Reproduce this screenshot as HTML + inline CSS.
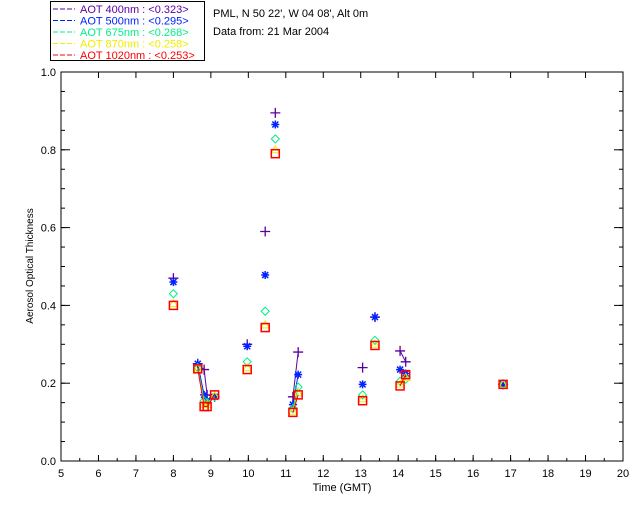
<!DOCTYPE html><html><head><style>body{margin:0;background:#fff}svg{display:block;font-family:"Liberation Sans","DejaVu Sans",sans-serif}</style></head><body>
<svg id="c" width="640" height="512"></svg>
<script>
const times=[8.0,8.65,8.82,8.9,9.1,9.97,10.45,10.72,11.19,11.33,13.05,13.38,14.05,14.2,16.8];
const aot400=[0.47,0.25,0.235,0.17,0.165,0.30,0.59,0.895,0.165,0.28,0.24,0.37,0.283,0.255,0.197];
const aot500=[0.46,0.25,0.17,0.155,0.165,0.295,0.478,0.865,0.145,0.222,0.197,0.37,0.235,0.225,0.197];
const aot675=[0.43,0.24,0.155,0.15,0.165,0.255,0.385,0.828,0.135,0.19,0.17,0.31,0.205,0.21,0.197];
const aot870=[0.405,0.238,0.145,0.145,0.168,0.24,0.35,0.80,0.128,0.175,0.16,0.30,0.198,0.215,0.197];
const aot1020=[0.40,0.237,0.14,0.14,0.17,0.235,0.343,0.79,0.125,0.17,0.155,0.297,0.193,0.222,0.197];
const xTicks=[5,6,7,8,9,10,11,12,13,14,15,16,17,18,19,20];
const yTicks=[0,0.2,0.4,0.6,0.8,1.0];
const legendLabels=["AOT  400nm : <0.323>","AOT  500nm : <0.295>","AOT  675nm : <0.268>","AOT  870nm : <0.258>","AOT 1020nm : <0.253>"];
const colors=["#5a00a0","#0022ff","#00ee88","#eeee00","#ff0000"];
const series=[aot400,aot500,aot675,aot870,aot1020];
const NS="http://www.w3.org/2000/svg",svg=document.getElementById('c');
const X=t=>61+(t-5)*562/15, Y=v=>461-v*389;
function mk(tag,a,p){const e=document.createElementNS(NS,tag);for(const k in a)e.setAttribute(k,a[k]);(p||svg).appendChild(e);return e;}
let f=mk('rect',{x:61,y:72,width:562,height:389,fill:'none',stroke:'#000'});


xTicks.forEach(t=>{mk('line',{x1:X(t),x2:X(t),y1:461,y2:455,stroke:'#000'});mk('line',{x1:X(t),x2:X(t),y1:72,y2:78,stroke:'#000'});
 const tx=mk('text',{x:X(t),y:477,'font-size':11,'text-anchor':'middle'});tx.textContent=t;
 
 });
for(let t=5;t<20;t+=0.5){mk('line',{x1:X(t),x2:X(t),y1:461,y2:458,stroke:'#000'});}
yTicks.forEach(v=>{mk('line',{x1:61,x2:70,y1:Y(v),y2:Y(v),stroke:'#000'});mk('line',{x1:623,x2:614,y1:Y(v),y2:Y(v),stroke:'#000'});
 const tx=mk('text',{x:56,y:Y(v)+4,'font-size':11,'text-anchor':'end'});tx.textContent=v.toFixed(1);
 
 });
for(let v=0;v<1;v+=0.05){mk('line',{x1:61,x2:65,y1:Y(v),y2:Y(v),stroke:'#000'});mk('line',{x1:623,x2:619,y1:Y(v),y2:Y(v),stroke:'#000'});}
let xt=mk('text',{x:342,y:491,'font-size':11,'text-anchor':'middle'});xt.textContent='Time (GMT)';


let yt=mk('text',{x:0,y:0,'font-size':10,'text-anchor':'middle',transform:'translate(33,266) rotate(-90)'});yt.textContent='Aerosol Optical Thickness';


function marker(k,x,y,c,g){
 if(k==0){mk('path',{d:`M${x-5} ${y}H${x+5}M${x} ${y-5}V${y+5}`,stroke:c,'stroke-width':1.3},g);}
 else if(k==1){mk('path',{d:`M${x-4} ${y}H${x+4}M${x} ${y-4}V${y+4}M${x-3} ${y-3}L${x+3} ${y+3}M${x-3} ${y+3}L${x+3} ${y-3}`,stroke:c,'stroke-width':1.5},g);}
 else if(k==2){mk('path',{d:`M${x} ${y-4}L${x+4} ${y}L${x} ${y+4}L${x-4} ${y}Z`,stroke:c,fill:'none'},g);}
 else if(k==3){mk('path',{d:`M${x} ${y-4}L${x+4} ${y+3}L${x-4} ${y+3}Z`,stroke:c,fill:'none'},g);}
 else {mk('rect',{x:x-4,y:y-4,width:8,height:8,stroke:c,fill:'none','stroke-width':1.5},g);}
}
series.forEach((s,k)=>{const g=mk('g',{});
 
 
 for(let i=1;i<times.length;i++){if(times[i]-times[i-1]<0.25)mk('line',{x1:X(times[i-1]),y1:Y(s[i-1]),x2:X(times[i]),y2:Y(s[i]),stroke:colors[k]},g);}
 times.forEach((t,i)=>marker(k,X(t),Y(s[i]),colors[k],g));});
const lg=mk('g',{});


mk('rect',{x:50.5,y:1.5,width:154,height:59,fill:'#fff',stroke:'#000'},lg);
legendLabels.forEach((l,i)=>{const y=13+i*11.5;mk('line',{x1:53,x2:75,y1:y-4,y2:y-4,stroke:colors[i],'stroke-dasharray':'5,2'},lg);
 const tx=mk('text',{x:80,y:y,'font-size':11,fill:colors[i],'xml:space':'preserve'},lg);tx.textContent=l;
 
 });
[["PML, N 50 22', W 04 08', Alt 0m",17],["Data from: 21 Mar 2004",35]].forEach(([s,y])=>{const tx=mk('text',{x:213,y:y,'font-size':11});tx.textContent=s;
 
 });
</script></body></html>
